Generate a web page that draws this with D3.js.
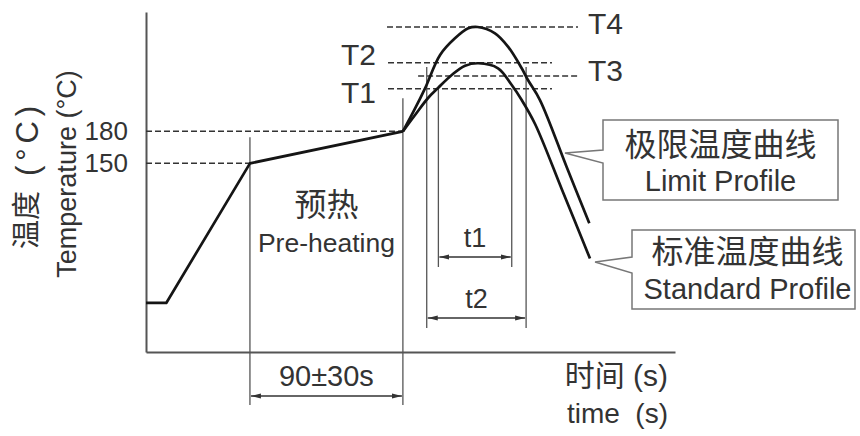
<!DOCTYPE html>
<html>
<head>
<meta charset="utf-8">
<script src="https://cdn.jsdelivr.net/npm/d3@7/dist/d3.min.js"></script>
<style>
  html, body { margin: 0; padding: 0; background: #fff; }
  svg { display: block; font-family: "Liberation Sans", Arial, "Noto Sans CJK SC", sans-serif; }
</style>
</head>
<body>
<script>
// ---------------- data ----------------
// shared ramp + preheat (time s, temperature °C)
const rampTime = [0, 12, 61.5, 152];
const rampTemp = [19, 19, 150, 180];

// limit profile (upper curve)
const limitTime = [152, 158.6, 165.1, 174, 182.8, 190.7, 196.2, 206.5, 214.2, 222.3, 226, 233.1, 248.9, 262.3];
const limitTemp = [180, 199.6, 220.4, 251.7, 267.3, 276.7, 277.9, 272, 259.5, 239.2, 228.2, 209.4, 146.6, 93.8];

// standard profile (lower curve)
const standardTime = [152, 159.2, 166.9, 172.8, 180.9, 188.8, 196.7, 208.3, 216.4, 222.3, 230.2, 246.2, 262.7];
const standardTemp = [180, 195.4, 211.3, 220.7, 232.9, 241.6, 243.9, 239.2, 223.5, 209.4, 186.9, 125, 60.7];

// y tick labels
const yTicks = [150, 180];

// temperature levels
const levelNames = ["T4", "T2", "T3", "T1"];
const levelTemps = [278, 244.5, 232, 220];
const levelStart = [142.6, 143.2, 161, 143.2];
const levelEnd = [255.6, 240.2, 255.6, 240.2];

// time intervals
const intervalNames = ["t1", "t2"];
const intervalStart = [173, 166.1];
const intervalEnd = [216.4, 224.9];
const preheatStart = 61.5, preheatEnd = 152;
const preheatLabel = "90±30s";

// callouts
const calloutCN = ["极限温度曲线", "标准温度曲线"];
const calloutEN = ["Limit Profile", "Standard Profile"];
const calloutTipTime = [247.9, 265.7];
const calloutTipTemp = [159.7, 57.4];

// ---------------- layout ----------------
const W = 860, H = 436;
const x = d3.scaleLinear().domain([0, 313]).range([146, 675]);
const y = d3.scaleLinear().domain([-27, 292]).range([352, 12]);
const TEXT = "#333";
const INK = "#151515";
const CJK = "Liberation Sans, Arial, Noto Sans CJK SC, sans-serif";

const svg = d3.select("body").append("svg").attr("width", W).attr("height", H);

const defs = svg.append("defs");
defs.append("marker").attr("id", "arr")
  .attr("viewBox", "0 0 10 6").attr("refX", 10).attr("refY", 3)
  .attr("markerWidth", 10).attr("markerHeight", 6)
  .attr("markerUnits", "userSpaceOnUse")
  .attr("orient", "auto-start-reverse")
  .append("path").attr("d", "M0,0.5L10,3L0,5.5Z").attr("fill", "#333");

// axes
const yAxis = svg.append("g").attr("transform", `translate(${x(0)},0)`)
  .call(d3.axisLeft(y).tickValues(yTicks).tickSize(0).tickSizeOuter(0).tickPadding(18));
yAxis.select(".domain").attr("stroke", "#555").attr("stroke-width", 2);
yAxis.selectAll("text").attr("font-size", 26).attr("fill", TEXT)
  .attr("font-family", "Liberation Sans, Arial, sans-serif");

const xAxis = svg.append("g").attr("transform", `translate(0,${y(-27)})`)
  .call(d3.axisBottom(x).tickValues([]).tickSizeOuter(0));
xAxis.select(".domain").attr("stroke", "#555").attr("stroke-width", 2);

// dashed guide lines for the y ticks
const dashStyle = sel => sel.attr("stroke", "#333").attr("stroke-width", 1.5).attr("stroke-dasharray", "6,3").attr("fill", "none");
yTicks.forEach(v => {
  const i = rampTemp.indexOf(v);
  svg.append("line").attr("x1", x(0)).attr("x2", x(rampTime[i]))
    .attr("y1", y(v)).attr("y2", y(v)).call(dashStyle);
});

// level dashed lines + labels
const levelLabelDx = [10, -12, 10, -12];
const levelLabelDy = [-3, -8, -5, 4];
levelNames.forEach((n, i) => {
  svg.append("line").attr("x1", x(levelStart[i])).attr("x2", x(levelEnd[i]))
    .attr("y1", y(levelTemps[i])).attr("y2", y(levelTemps[i])).call(dashStyle);
  const right = levelLabelDx[i] > 0;
  svg.append("text")
    .attr("x", right ? x(levelEnd[i]) + levelLabelDx[i] : x(levelStart[i]) + levelLabelDx[i])
    .attr("y", y(levelTemps[i]) + levelLabelDy[i])
    .attr("dominant-baseline", "central")
    .attr("text-anchor", right ? "start" : "end")
    .attr("font-size", 30).attr("fill", TEXT).text(n);
});

// vertical guide lines (thin gray)
const vStyle = sel => sel.attr("stroke", "#555").attr("stroke-width", 1.3);
const bottomY = y(-27);
// preheat verticals
[[preheatStart, 150, 26], [preheatEnd, 180, 33]].forEach(([t, temp, above]) => {
  svg.append("line").attr("x1", x(t)).attr("x2", x(t))
    .attr("y1", y(temp) - above).attr("y2", bottomY + 53).call(vStyle);
});
// t1 verticals (from T1 level), t2 verticals (from above T3)
const t1Top = y(levelTemps[3]), t1Bot = 267, t1Arrow = 257;
const t2Top = y(levelTemps[2]) - 9, t2Bot = 328, t2Arrow = 318;
[intervalStart[0], intervalEnd[0]].forEach(t => {
  svg.append("line").attr("x1", x(t)).attr("x2", x(t)).attr("y1", t1Top).attr("y2", t1Bot).call(vStyle);
});
[intervalStart[1], intervalEnd[1]].forEach(t => {
  svg.append("line").attr("x1", x(t)).attr("x2", x(t)).attr("y1", t2Top).attr("y2", t2Bot).call(vStyle);
});

// double arrows
function dblArrow(t0, t1, yy) {
  svg.append("line").attr("x1", x(t0) + 1).attr("x2", x(t1) - 1).attr("y1", yy).attr("y2", yy)
    .attr("stroke", "#333").attr("stroke-width", 1.3)
    .attr("marker-start", "url(#arr)").attr("marker-end", "url(#arr)");
}
dblArrow(intervalStart[0], intervalEnd[0], t1Arrow);
dblArrow(intervalStart[1], intervalEnd[1], t2Arrow);
dblArrow(preheatStart, preheatEnd, 396);

svg.append("text").attr("x", (x(intervalStart[0]) + x(intervalEnd[0])) / 2).attr("y", 247)
  .attr("text-anchor", "middle").attr("font-size", 27).attr("fill", TEXT).text(intervalNames[0]);
svg.append("text").attr("x", (x(intervalStart[1]) + x(intervalEnd[1])) / 2).attr("y", 308)
  .attr("text-anchor", "middle").attr("font-size", 27).attr("fill", TEXT).text(intervalNames[1]);
svg.append("text").attr("x", (x(preheatStart) + x(preheatEnd)) / 2).attr("y", 386)
  .attr("text-anchor", "middle").attr("font-size", 29).attr("fill", TEXT).text(preheatLabel);

// preheat labels
const pmx = (x(preheatStart) + x(preheatEnd)) / 2;
svg.append("text").attr("x", pmx).attr("y", 205).attr("text-anchor", "middle")
  .attr("dominant-baseline", "central")
  .attr("font-size", 32).attr("fill", TEXT).attr("font-family", CJK).text("预热");
svg.append("text").attr("x", pmx).attr("y", 252).attr("text-anchor", "middle")
  .attr("font-size", 26.5).attr("fill", TEXT).text("Pre-heating");

// curves
const ramp = rampTime.map((t, i) => [t, rampTemp[i]]);
const limit = limitTime.map((t, i) => [t, limitTemp[i]]);
const standard = standardTime.map((t, i) => [t, standardTemp[i]]);
const straight = d3.line().x(d => x(d[0])).y(d => y(d[1]));
const smooth = d3.line().x(d => x(d[0])).y(d => y(d[1])).curve(d3.curveCatmullRom.alpha(0.5));
const curveStyle = sel => sel.attr("fill", "none").attr("stroke", INK).attr("stroke-width", 2.7)
  .attr("stroke-linejoin", "round").attr("stroke-linecap", "butt");
svg.append("path").attr("d", straight(ramp)).call(curveStyle);
svg.append("path").attr("d", smooth(standard)).call(curveStyle);
svg.append("path").attr("d", smooth(limit)).call(curveStyle);

// callout boxes
const boxes = [
  { x0: 603, x1: 838, y0: 120, y1: 200, n0: 150, n1: 163, cnY: 145, enY: 191 },
  { x0: 632, x1: 855, y0: 230, y1: 309, n0: 257, n1: 273, cnY: 252, enY: 299 }
];
boxes.forEach((b, i) => {
  const tx = x(calloutTipTime[i]), ty = y(calloutTipTemp[i]);
  const p = d3.path();
  p.moveTo(b.x0, b.y0); p.lineTo(b.x1, b.y0); p.lineTo(b.x1, b.y1); p.lineTo(b.x0, b.y1);
  p.lineTo(b.x0, b.n1); p.lineTo(tx, ty); p.lineTo(b.x0, b.n0); p.closePath();
  svg.append("path").attr("d", p.toString()).attr("fill", "#fff").attr("stroke", "#777").attr("stroke-width", 1.5);
  const cx = (b.x0 + b.x1) / 2 + (i === 1 ? 4 : 0);
  svg.append("text").attr("x", cx).attr("y", b.cnY).attr("dominant-baseline", "central")
    .attr("text-anchor", "middle").attr("font-size", 32).attr("fill", TEXT)
    .attr("font-family", CJK).text(calloutCN[i]);
  svg.append("text").attr("x", cx).attr("y", b.enY)
    .attr("text-anchor", "middle").attr("font-size", 29).attr("fill", TEXT).text(calloutEN[i]);
});

// axis titles
svg.append("text").attr("transform", "translate(27,220) rotate(-90)")
  .attr("text-anchor", "middle").attr("dominant-baseline", "central")
  .attr("fill", TEXT).attr("font-family", CJK).attr("font-size", 29).text("温度");
svg.append("text").attr("transform", "translate(27,141) rotate(-90)")
  .attr("text-anchor", "middle").attr("dominant-baseline", "central")
  .attr("fill", TEXT).attr("font-size", 31)
  .attr("textLength", 70).attr("lengthAdjust", "spacing").text("(°C)");
svg.append("text").attr("transform", "translate(67,174) rotate(-90)")
  .attr("text-anchor", "middle").attr("dominant-baseline", "central")
  .attr("font-size", 27).attr("fill", TEXT).text("Temperature (°C)");
svg.append("text").attr("x", 668).attr("y", 375).attr("dominant-baseline", "central")
  .attr("text-anchor", "end").attr("font-size", 30).attr("fill", TEXT).attr("font-family", CJK)
  .text("时间 (s)");
svg.append("text").attr("x", 668).attr("y", 423)
  .attr("text-anchor", "end").attr("font-size", 28).attr("fill", TEXT)
  .style("white-space", "pre").text("time  (s)");
</script>
</body>
</html>
